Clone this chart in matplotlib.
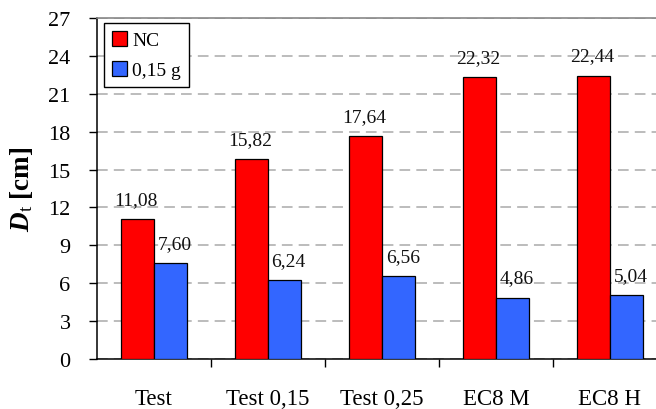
import matplotlib
matplotlib.use("Agg")
import matplotlib.pyplot as plt
import numpy as np

categories = ["Test", "Test 0,15", "Test 0,25", "EC8 M", "EC8 H"]
nc_values = [11.08, 15.82, 17.64, 22.32, 22.44]
g015_values = [7.60, 6.24, 6.56, 4.86, 5.04]
series_names = ["NC", "0,15 g"]
yticks = [0, 3, 6, 9, 12, 15, 18, 21, 24, 27]

plt.rcParams['font.family'] = ['Liberation Serif', 'DejaVu Serif']
plt.rcParams['mathtext.fontset'] = 'custom'
plt.rcParams['mathtext.rm'] = 'Liberation Serif'
plt.rcParams['mathtext.it'] = 'Liberation Serif:italic'
plt.rcParams['mathtext.bf'] = 'Liberation Serif:bold'
plt.rcParams['mathtext.bfit'] = 'Liberation Serif:bold:italic'

fig = plt.figure(figsize=(6.56, 4.10), dpi=100)
ax = fig.add_axes([97/656, 50/410, 570/656, 341/410])

x = np.arange(len(categories))
w = 0.29
b1 = ax.bar(x - w/2, nc_values, w, color='#FF0000', edgecolor='black', linewidth=0.9, label=series_names[0], zorder=3)
b2 = ax.bar(x + w/2, g015_values, w, color='#3366FF', edgecolor='black', linewidth=0.9, label=series_names[1], zorder=3)

def fmt(v):
    return f"{v:.2f}".replace('.', ',')

for bars, vals, dx in ((b1, nc_values, -1), (b2, g015_values, 3)):
    for r, v in zip(bars, vals):
        ax.annotate(fmt(v), (r.get_x() + r.get_width()/2, v), xytext=(dx, 11),
                    textcoords='offset points', ha='center', va='baseline',
                    fontsize=14, color='#111111')

ax.set_xlim(-0.5, len(categories) - 0.5)
ax.set_ylim(0, 27)
ax.set_yticks(yticks)
ax.set_yticklabels([str(t) for t in yticks], fontsize=16)
ax.tick_params(axis='y', direction='out', length=6, width=1, pad=13)
ax.set_xticks(x)
ax.set_xticklabels(categories, fontsize=16.5)
ax.tick_params(axis='x', which='major', length=0, pad=21)
ax.set_xticks(np.arange(len(categories) - 1) + 0.5, minor=True)
ax.tick_params(axis='x', which='minor', direction='out', length=6, width=1)

ax.yaxis.grid(True, linestyle=(0, (7, 4)), color='#aaaaaa', linewidth=1.1, zorder=0)
ax.set_axisbelow(True)

ax.spines['top'].set_color('#888888')
ax.spines['top'].set_linewidth(1.2)
ax.spines['right'].set_visible(False)
ax.spines['left'].set_linewidth(1.1)
ax.spines['bottom'].set_linewidth(1.1)

ax.set_ylabel(r'$\mathbfit{D}_{\mathrm{t}}$ [cm]', fontsize=19.5, fontweight='bold')
ax.yaxis.set_label_coords(-0.109, 0.5)

leg = ax.legend(loc='upper left', bbox_to_anchor=(0.012, 0.985), fontsize=14,
                frameon=True, fancybox=False, edgecolor='black', framealpha=1,
                handlelength=0.8, handleheight=0.8, handletextpad=0.25,
                borderpad=0.4, labelspacing=0.6, borderaxespad=0)
leg.get_frame().set_linewidth(1.0)

fig.savefig('out.png', dpi=100)
